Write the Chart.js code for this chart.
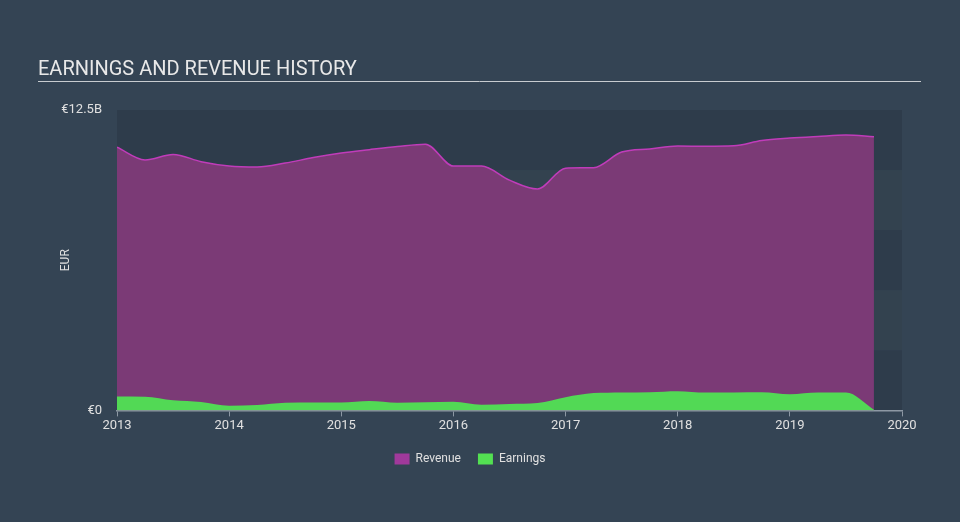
<!DOCTYPE html>
<html>
<head>
<meta charset="utf-8">
<script src="https://cdn.jsdelivr.net/npm/chart.js@4/dist/chart.umd.min.js"></script>
<style>
  html, body { margin: 0; padding: 0; background: #344454; }
  #wrap { width: 960px; height: 522px; }
</style>
</head>
<body>
<div id="wrap"><canvas id="chart" width="960" height="522"></canvas></div>
<script>
// quarterly periods, 2013 Q1 .. 2019 Q4
const periods = []
for (let i = 0; i < 28; i++) periods.push(2013 + i / 4)

// in billions of EUR
const revenue = [10.95, 10.42, 10.65, 10.35, 10.17, 10.13, 10.29, 10.52, 10.71, 10.85, 10.98, 11.08,
  10.17, 10.17, 9.58, 9.21, 10.08, 10.10, 10.75, 10.88, 11.00, 10.99, 11.01, 11.23, 11.33, 11.40, 11.46, 11.39]
const earnings = [0.58, 0.57, 0.42, 0.35, 0.19, 0.22, 0.32, 0.33, 0.33, 0.39, 0.32, 0.34,
  0.36, 0.24, 0.27, 0.31, 0.55, 0.72, 0.75, 0.76, 0.80, 0.74, 0.75, 0.76, 0.67, 0.74, 0.74, 0.03]

const yearTicks = [2013, 2014, 2015, 2016, 2017, 2018, 2019, 2020]
const yMax = 12.5

function toPoints(vals){
  return vals.map((v, i) => ({x: periods[i], y: v}))
}

// alternating background bands behind the plot
const bands = {
  id: 'bands',
  beforeDraw(chart){
    const {ctx, chartArea, scales} = chart
    const y = scales.y
    for (let i = 0; i < 5; i++) {
      const top = y.getPixelForValue(yMax - i * 2.5)
      const bot = y.getPixelForValue(yMax - (i + 1) * 2.5)
      ctx.fillStyle = i % 2 == 0 ? '#2e3c4b' : '#33424f'
      ctx.fillRect(chartArea.left, top, chartArea.right - chartArea.left, bot - top)
    }
  }
}

// underline below the title
const underline = {
  id: 'underline',
  afterDraw(chart){
    const ctx = chart.ctx
    ctx.save()
    ctx.strokeStyle = '#c8ccd0'
    ctx.lineWidth = 1
    ctx.beginPath()
    ctx.moveTo(38, 81.5)
    ctx.lineTo(921, 81.5)
    ctx.stroke()
    ctx.restore()
  }
}

const data = {
  datasets: [{
    label: 'Revenue',
    data: toPoints(revenue),
    backgroundColor: '#7b3a76',
    borderColor: '#c03cba',
    borderWidth: 1.5,
    fill: 'origin',
    cubicInterpolationMode: 'monotone',
    pointRadius: 0,
    order: 2
  }, {
    label: 'Earnings',
    data: toPoints(earnings),
    backgroundColor: '#52d955',
    borderColor: '#52d955',
    borderWidth: 0,
    fill: 'origin',
    cubicInterpolationMode: 'monotone',
    pointRadius: 0,
    order: 1
  }]
}

const legendColors = ['#a0399b', '#53e052']

const config = {
  type: 'line',
  data: data,
  plugins: [bands, underline],
  options: {
    responsive: false,
    animation: false,
    layout: { padding: { left: 38, right: 58, top: 18, bottom: 47 } },
    plugins: {
      title: {
        display: true,
        text: 'EARNINGS AND REVENUE HISTORY',
        align: 'start',
        color: '#e8e8e8',
        font: { family: 'Roboto', size: 20, weight: 'normal' },
        padding: { top: 40, bottom: 28 }
      },
      legend: {
        position: 'bottom',
        labels: {
          color: '#e0e0e0',
          font: { family: 'Roboto', size: 12 },
          boxWidth: 15,
          boxHeight: 11,
          padding: 17,
          generateLabels(chart){
            return chart.data.datasets.map((d, i) => ({
              text: d.label,
              fillStyle: legendColors[i],
              strokeStyle: legendColors[i],
              lineWidth: 0,
              fontColor: '#e0e0e0',
              datasetIndex: i
            }))
          }
        }
      },
      tooltip: { enabled: false }
    },
    scales: {
      x: {
        type: 'linear',
        min: 2013,
        max: 2020,
        afterBuildTicks(axis){ axis.ticks = yearTicks.map(v => ({value: v})) },
        ticks: {
          color: '#e0e0e0',
          font: { family: 'Roboto', size: 13 },
          padding: 2,
          maxRotation: 0,
          callback: v => String(v)
        },
        grid: { drawOnChartArea: false, drawTicks: true, tickLength: 6, color: '#8d98a4' },
        border: { color: '#8d98a4', width: 1.5 }
      },
      y: {
        min: 0,
        max: yMax,
        afterFit(axis){ axis.width = 79 },
        ticks: {
          stepSize: 2.5,
          padding: 7,
          color: '#e0e0e0',
          font: { family: 'Roboto', size: 13 },
          callback: v => v == 0 ? '€0' : (v == yMax ? '€12.5B' : '')
        },
        title: {
          display: true,
          text: 'EUR',
          color: '#e0e0e0',
          font: { family: 'Roboto', size: 12 },
          padding: { top: 21, bottom: 0 }
        },
        grid: { display: false },
        border: { display: false }
      }
    }
  }
}

let ctx = document.getElementById('chart').getContext('2d')
new Chart(ctx, config)
</script>
</body>
</html>
